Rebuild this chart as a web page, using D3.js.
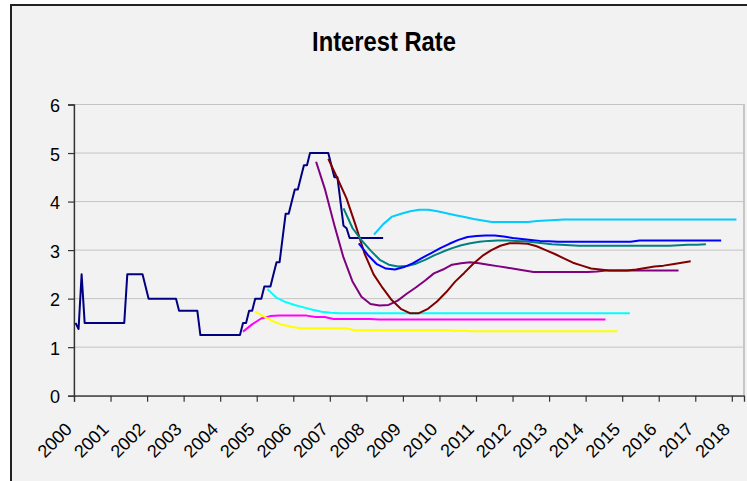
<!DOCTYPE html>
<html>
<head>
<meta charset="utf-8">
<script src="https://cdn.jsdelivr.net/npm/d3@7/dist/d3.min.js"></script>
<style>
  html, body { margin: 0; padding: 0; background: #ffffff; }
  svg { display: block; }
  text { font-family: "Liberation Sans", Arial, sans-serif; }
</style>
</head>
<body>
<svg id="chart" width="747" height="481"></svg>
<script>
// ---- data -------------------------------------------------------------
const chartTitle = "Interest Rate";
const yearLabels = d3.range(2000, 2019).map(String);   // one label every 12 months
const rateTicks = [0, 1, 2, 3, 4, 5, 6];
const monthCount = 220;                                  // Jan 2000 .. Apr 2018

// Policy rate, monthly from Jan 2000
const policyRate = [
  1.5, 1.375, 2.5,
  1.5, 1.5, 1.5, 1.5, 1.5, 1.5, 1.5, 1.5, 1.5, 1.5, 1.5, 1.5, 1.5, 1.5,
  2.5, 2.5, 2.5, 2.5, 2.5, 2.5, 2.25,
  2.0, 2.0, 2.0, 2.0, 2.0, 2.0, 2.0, 2.0, 2.0, 2.0,
  1.75, 1.75, 1.75, 1.75, 1.75, 1.75, 1.75,
  1.25, 1.25, 1.25, 1.25, 1.25, 1.25, 1.25, 1.25, 1.25, 1.25, 1.25, 1.25, 1.25, 1.25,
  1.5, 1.5, 1.75, 1.75, 2.0, 2.0, 2.0, 2.25, 2.25, 2.25, 2.5, 2.75, 2.75,
  3.25, 3.75, 3.75, 4.0, 4.25, 4.25, 4.5, 4.75, 4.75,
  5.0, 5.0, 5.0, 5.0, 5.0, 5.0, 5.0,
  4.75, 4.5, 4.5, 4.0, 3.5, 3.45,
  3.25, 3.25, 3.25, 3.25, 3.25, 3.25, 3.25, 3.25, 3.25, 3.25, 3.25, 3.25
];

// Forecast paths: quarterly readings spanning a 119-month horizon
const forecastHorizon = 119;
const forecastStarts = [55, 59, 63, 79, 83, 88, 93, 98];   // first month of each path
const forecastColors = ["#ff00ff", "#ffff00", "#00ffff", "#800080",
                        "#800000", "#008080", "#0000ff", "#00ccff"];

const pathMagenta = [1.32, 1.47, 1.59, 1.64, 1.65, 1.65, 1.65, 1.65, 1.62, 1.62,
  1.58, 1.58, 1.58, 1.58, 1.58, 1.57, 1.57, 1.57, 1.57, 1.57,
  1.57, 1.57, 1.57, 1.57, 1.57, 1.57, 1.57, 1.57, 1.57, 1.57,
  1.57, 1.57, 1.57, 1.57, 1.57, 1.57, 1.57, 1.57, 1.57, 1.57, 1.57];
const pathYellow = [1.73, 1.63, 1.53, 1.46, 1.42, 1.39, 1.39, 1.39, 1.39, 1.39,
  1.39, 1.35, 1.35, 1.35, 1.35, 1.35, 1.35, 1.35, 1.35, 1.35,
  1.35, 1.35, 1.34, 1.34, 1.33, 1.33, 1.33, 1.33, 1.33, 1.33,
  1.33, 1.33, 1.33, 1.33, 1.33, 1.33, 1.33, 1.33, 1.33, 1.33, 1.33];
const pathAqua = [2.20, 2.02, 1.93, 1.87, 1.82, 1.77, 1.73, 1.71, 1.70, 1.70,
  1.70, 1.70, 1.70, 1.70, 1.70, 1.70, 1.70, 1.70, 1.70, 1.70,
  1.70, 1.70, 1.70, 1.70, 1.70, 1.70, 1.70, 1.70, 1.70, 1.70,
  1.70, 1.70, 1.70, 1.70, 1.70, 1.70, 1.70, 1.70, 1.70, 1.70, 1.70];
const pathPurple = [4.82, 4.24, 3.52, 2.86, 2.36, 2.04, 1.89, 1.86, 1.87, 1.96,
  2.10, 2.23, 2.37, 2.52, 2.60, 2.70, 2.73, 2.75, 2.73, 2.70,
  2.67, 2.64, 2.61, 2.58, 2.55, 2.55, 2.55, 2.55, 2.55, 2.55,
  2.55, 2.56, 2.58, 2.58, 2.58, 2.58, 2.58, 2.58, 2.58, 2.58, 2.58];
const pathMaroon = [4.88, 4.48, 4.07, 3.52, 2.93, 2.50, 2.22, 1.97, 1.79, 1.70,
  1.70, 1.79, 1.94, 2.13, 2.35, 2.53, 2.72, 2.88, 3.00, 3.09,
  3.14, 3.14, 3.13, 3.08, 3.00, 2.92, 2.83, 2.74, 2.68, 2.62,
  2.60, 2.58, 2.58, 2.58, 2.60, 2.63, 2.66, 2.68, 2.71, 2.74, 2.77];
const pathTeal = [3.86, 3.45, 3.20, 2.99, 2.80, 2.70, 2.66, 2.67, 2.72, 2.80,
  2.89, 2.97, 3.04, 3.10, 3.14, 3.17, 3.19, 3.20, 3.20, 3.19,
  3.18, 3.16, 3.14, 3.12, 3.11, 3.10, 3.09, 3.09, 3.09, 3.09,
  3.09, 3.09, 3.09, 3.09, 3.09, 3.09, 3.09, 3.10, 3.11, 3.11, 3.12];
const pathBlue = [3.14, 2.90, 2.71, 2.62, 2.60, 2.65, 2.73, 2.84, 2.94, 3.04,
  3.13, 3.21, 3.27, 3.29, 3.30, 3.30, 3.28, 3.25, 3.23, 3.21,
  3.19, 3.18, 3.17, 3.17, 3.17, 3.17, 3.17, 3.17, 3.17, 3.17,
  3.17, 3.20, 3.20, 3.20, 3.20, 3.20, 3.20, 3.20, 3.20, 3.20, 3.20];
const pathSky = [3.32, 3.53, 3.69, 3.75, 3.80, 3.83, 3.83, 3.80, 3.76, 3.72,
  3.68, 3.64, 3.61, 3.58, 3.58, 3.58, 3.58, 3.58, 3.60, 3.61,
  3.62, 3.63, 3.63, 3.63, 3.63, 3.63, 3.63, 3.63, 3.63, 3.63,
  3.63, 3.63, 3.63, 3.63, 3.63, 3.63, 3.63, 3.63, 3.63, 3.63, 3.63];

const forecastPaths = [pathMagenta, pathYellow, pathAqua, pathPurple,
                       pathMaroon, pathTeal, pathBlue, pathSky];

// ---- layout -----------------------------------------------------------
const svg = d3.select("#chart");
const plot = { left: 74, right: 744, top: 104.5, bottom: 395.7 };

const x = d3.scaleLinear().domain([0, monthCount]).range([plot.left, plot.right]);
const y = d3.scaleLinear().domain([0, 6]).range([plot.bottom, plot.top]);

// chart frame
svg.append("rect")
  .attr("x", 11).attr("y", 5)
  .attr("width", 760).attr("height", 500)
  .attr("fill", "#f2f2f2")
  .attr("stroke", "#222").attr("stroke-width", 2);

// title (narrow bold face)
svg.append("text")
  .attr("transform", "translate(384,51) scale(0.88,1)")
  .attr("text-anchor", "middle")
  .attr("font-size", 27).attr("font-weight", "bold")
  .attr("fill", "#000")
  .text(chartTitle);

// plot area
svg.append("rect")
  .attr("x", plot.left).attr("y", plot.top)
  .attr("width", plot.right - plot.left).attr("height", plot.bottom - plot.top)
  .attr("fill", "#f2f2f2")
  .attr("stroke", "#9a9a9a").attr("stroke-width", 1);

// horizontal gridlines
svg.append("g")
  .selectAll("line")
  .data(rateTicks.filter(v => v > 0))
  .join("line")
  .attr("x1", plot.left).attr("x2", plot.right)
  .attr("y1", d => y(d)).attr("y2", d => y(d))
  .attr("stroke", "#c4c4c4").attr("stroke-width", 1);

// y axis
const yAxis = d3.axisLeft(y).tickValues(rateTicks).tickSize(6).tickPadding(8)
  .tickFormat(d3.format("d"));
const gy = svg.append("g").attr("transform", `translate(${plot.left},0)`).call(yAxis);
gy.select(".domain").attr("stroke", "#333").attr("stroke-width", 1.3);
gy.selectAll(".tick line").attr("stroke", "#333").attr("stroke-width", 1.2);
gy.selectAll(".tick text")
  .attr("font-size", 18).attr("fill", "#000")
  .attr("font-family", "'Liberation Sans', Arial, sans-serif")
  .attr("dy", "0.40em");

// x axis: a tick at the start of every year
const yearTicks = yearLabels.map((_, i) => i * 12);
const xAxis = d3.axisBottom(x).tickValues(yearTicks).tickSize(6).tickFormat("");
const gx = svg.append("g").attr("transform", `translate(0,${plot.bottom})`).call(xAxis);
gx.select(".domain").attr("stroke", "#333").attr("stroke-width", 1.3);
gx.selectAll(".tick line").attr("stroke", "#333").attr("stroke-width", 1.2);

svg.append("g")
  .selectAll("text")
  .data(yearLabels)
  .join("text")
  .attr("transform", (d, i) => `translate(${x(yearTicks[i]) - 0.8},430.5) rotate(-45)`)
  .attr("text-anchor", "end")
  .attr("font-size", 18)
  .attr("fill", "#000")
  .text(d => d);

// ---- series -----------------------------------------------------------
const line = d3.line().x(d => x(d[0])).y(d => y(d[1]));
const lines = svg.append("g").attr("fill", "none")
  .attr("stroke-linejoin", "round").attr("stroke-linecap", "butt");

lines.append("path")
  .attr("d", line(policyRate.map((v, m) => [m + 0.5, v])))
  .attr("stroke", "#000080").attr("stroke-width", 2);

forecastPaths.forEach((vals, k) => {
  const step = forecastHorizon / (vals.length - 1);
  const pts = vals.map((v, i) => [forecastStarts[k] + 0.5 + i * step, v]);
  lines.append("path")
    .attr("d", line(pts))
    .attr("stroke", forecastColors[k]).attr("stroke-width", 2);
});
</script>
</body>
</html>
